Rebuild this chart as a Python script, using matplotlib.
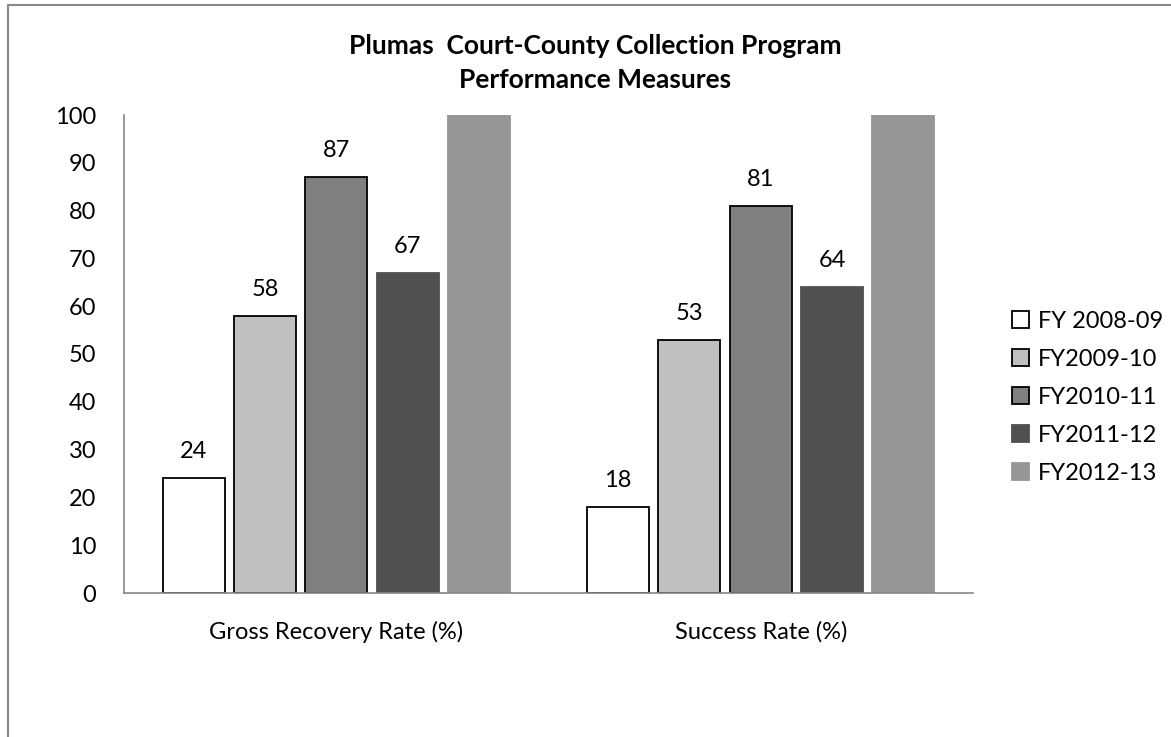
import numpy as np
import matplotlib
matplotlib.use('Agg')
import matplotlib.pyplot as plt
from matplotlib.lines import Line2D

plt.rcParams['font.family'] = ['Lato', 'DejaVu Sans']

# Data
categories = ['Gross Recovery Rate (%)', 'Success Rate (%)']
series = ['FY 2008-09', 'FY2009-10', 'FY2010-11', 'FY2011-12', 'FY2012-13']
values = [
    [24, 18],
    [58, 53],
    [87, 81],
    [67, 64],
    [110, 110],   # runs off the top of the axis in the original
]
fills = ['#ffffff', '#c0c0c0', '#808080', '#505050', '#969696']
edges = ['#000000', '#000000', '#000000', '#505050', '#969696']

fig = plt.figure(figsize=(11.71, 7.37), dpi=100)
ax = fig.add_axes([124 / 1171, 1 - 593 / 737, 849 / 1171, 478 / 737])

x = np.arange(len(categories))
pitch = 0.168
width = 0.146
for i, name in enumerate(series):
    pos = x + (i - 2) * pitch
    ax.bar(pos, values[i], width, color=fills[i], edgecolor=edges[i],
           linewidth=1.3, label=name)
    for px, v in zip(pos, values[i]):
        if v <= 100:
            ax.text(px, v + 5.5, str(v), ha='center', va='center', fontsize=17)

ax.set_xlim(-0.5, 1.5)
ax.set_ylim(0, 100)
ax.set_yticks(range(0, 101, 10))
ax.set_xticks(x)
ax.set_xticklabels(categories)
ax.tick_params(axis='y', length=0, pad=20, labelsize=17)
ax.tick_params(axis='x', length=0, pad=20, labelsize=17)
for s in ['top', 'right']:
    ax.spines[s].set_visible(False)
for s in ['left', 'bottom']:
    ax.spines[s].set_color('#868686')
    ax.spines[s].set_linewidth(1.2)

fig.text(0.508, 1 - 63 / 737, 'Plumas  Court-County Collection Program\nPerformance Measures',
         ha='center', va='center', fontsize=19, fontweight='bold', linespacing=1.5)

leg = ax.legend(loc='center left', bbox_to_anchor=(991 / 1171, 1 - 397 / 737),
                bbox_transform=fig.transFigure, frameon=False, fontsize=17,
                handlelength=0.7, handleheight=0.7, handletextpad=0.4,
                labelspacing=0.72)

# chart border (only left and top edges visible in the crop)
fig.add_artist(Line2D([8 / 1171, 8 / 1171, 1], [0, 1 - 4.5 / 737, 1 - 4.5 / 737],
                      color='#888888', linewidth=1.5, transform=fig.transFigure))

fig.savefig('out.png', dpi=100)
